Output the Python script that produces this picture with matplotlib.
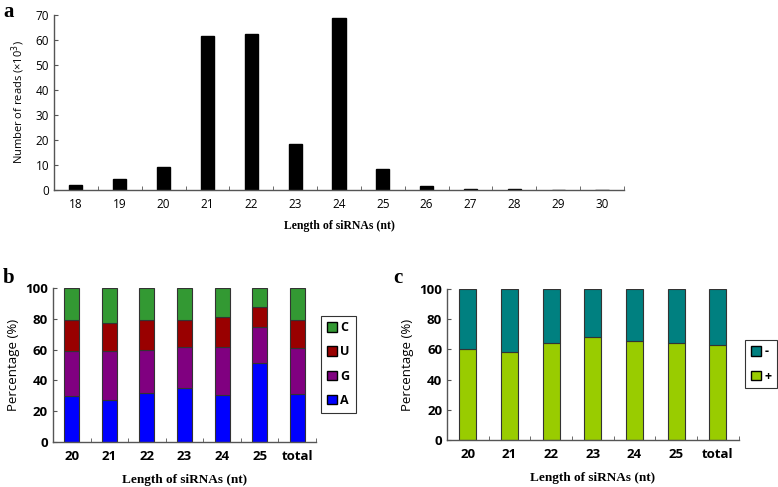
import numpy as np
import matplotlib.pyplot as plt
from matplotlib.patches import Patch

# Panel a: read counts by length
lengths_a = ["18", "19", "20", "21", "22", "23", "24", "25", "26", "27", "28", "29", "30"]
reads = [2.0, 4.5, 9.2, 61.5, 62.3, 18.4, 68.8, 8.2, 1.6, 0.2, 0.2, 0.0, 0.0]

# Panel b: nucleotide composition (%)
lengths_b = ["20", "21", "22", "23", "24", "25", "total"]
pct_A = [30, 27, 32, 35, 30.5, 51, 31]
pct_G = [29, 32, 28, 27, 31, 24, 30]
pct_U = [20, 18, 19, 17.5, 19.5, 12.5, 18.5]
pct_C = [21, 23, 21, 20.5, 19, 12.5, 20.5]

# Panel c: strand (%)
lengths_c = ["20", "21", "22", "23", "24", "25", "total"]
pct_plus = [60.5, 58.5, 64.5, 68, 65.5, 64.5, 63]
pct_minus = [39.5, 41.5, 35.5, 32, 34.5, 35.5, 37]

sans = "Open Sans"
serif = "Liberation Serif"
edge = "#333333"

fig = plt.figure(figsize=(7.78, 4.87), dpi=100)


def style_axes(ax, n, ymax, ystep, fs, bold):
    for s in ["top", "right"]:
        ax.spines[s].set_visible(False)
    for s in ["left", "bottom"]:
        ax.spines[s].set_color("#555555")
        ax.spines[s].set_linewidth(1.0)
    ax.set_xlim(-0.5, n - 0.5)
    ax.set_ylim(0, ymax)
    ax.set_yticks(np.arange(0, ymax + 1, ystep))
    ax.set_xticks(np.arange(n), minor=False)
    ax.set_xticks(np.arange(n + 1) - 0.5, minor=True)
    ax.tick_params(axis="x", which="major", length=0, pad=6)
    ax.tick_params(axis="x", which="minor", length=3, direction="in", color="#555555")
    ax.tick_params(axis="y", length=3, direction="in", color="#555555")
    for lab in ax.get_yticklabels():
        lab.set_fontfamily(sans)
        lab.set_fontsize(fs)
        if bold:
            lab.set_fontweight("bold")


def square_legend(ax, handles, anchor, bold):
    leg = ax.legend(handles=handles, loc="center left", bbox_to_anchor=anchor,
                    bbox_transform=fig.transFigure,
                    handlelength=0.8, handleheight=0.8, handletextpad=0.3, labelspacing=0.9,
                    fancybox=False, edgecolor="black", borderpad=0.45, borderaxespad=0,
                    prop={"family": sans, "size": 9, "weight": "bold" if bold else "normal"})
    leg.get_frame().set_linewidth(0.8)
    return leg


# ---- a ----
ax1 = fig.add_axes([0.0694, 0.610, 0.7326, 0.359])
x = np.arange(len(lengths_a))
ax1.bar(x, reads, width=0.3, color="black", edgecolor="black")
style_axes(ax1, len(lengths_a), 70, 10, 8.5, False)
ax1.set_xticklabels(lengths_a, fontfamily=sans, fontsize=8.5)
ax1.set_ylabel("Number of reads (×10$^3$)", fontfamily=sans, fontsize=8, labelpad=6)
ax1.set_xlabel("Length of siRNAs (nt)", fontfamily=serif, fontweight="bold", fontsize=8.5, labelpad=6)
fig.text(0.004, 0.975, "a", fontfamily=serif, fontweight="bold", fontsize=15, va="center")

# ---- b ----
ax2 = fig.add_axes([0.0681, 0.0924, 0.338, 0.3162])
x = np.arange(len(lengths_b))
colors_b = {"A": "#0000FF", "G": "#800080", "U": "#990000", "C": "#339933"}
bottom = np.zeros(len(lengths_b))
for key, vals in [("A", pct_A), ("G", pct_G), ("U", pct_U), ("C", pct_C)]:
    ax2.bar(x, vals, bottom=bottom, width=0.4, color=colors_b[key], edgecolor=edge, linewidth=0.8)
    bottom += np.array(vals)
style_axes(ax2, len(lengths_b), 100, 20, 9.5, True)
ax2.set_xticklabels(lengths_b, fontfamily=sans, fontsize=9.5, fontweight="bold")
ax2.set_ylabel("Percentage (%)", fontfamily=sans, fontsize=9.5, labelpad=4)
ax2.set_xlabel("Length of siRNAs (nt)", fontfamily=serif, fontweight="bold", fontsize=9.5, labelpad=8)
handles = [Patch(facecolor=colors_b[k], edgecolor="black", label=k) for k in ["C", "U", "G", "A"]]
square_legend(ax2, handles, (321 / 778, 1 - 364 / 487), True)
fig.text(0.004, 0.43, "b", fontfamily=serif, fontweight="bold", fontsize=15, va="center")

# ---- c ----
ax3 = fig.add_axes([0.5746, 0.0965, 0.375, 0.310])
x = np.arange(len(lengths_c))
ax3.bar(x, pct_plus, width=0.41, color="#99CC00", edgecolor=edge, linewidth=0.8)
ax3.bar(x, pct_minus, bottom=pct_plus, width=0.41, color="#008080", edgecolor=edge, linewidth=0.8)
style_axes(ax3, len(lengths_c), 100, 20, 9.5, True)
ax3.set_xticklabels(lengths_c, fontfamily=sans, fontsize=9.5, fontweight="bold")
ax3.set_ylabel("Percentage (%)", fontfamily=sans, fontsize=9.5, labelpad=4)
ax3.set_xlabel("Length of siRNAs (nt)", fontfamily=serif, fontweight="bold", fontsize=9.5, labelpad=8)
handles = [Patch(facecolor="#008080", edgecolor="black", label="-"),
           Patch(facecolor="#99CC00", edgecolor="black", label="+")]
square_legend(ax3, handles, (745 / 778, 1 - 364 / 487), True)
fig.text(0.505, 0.43, "c", fontfamily=serif, fontweight="bold", fontsize=15, va="center")

fig.savefig("out.png", dpi=100)
